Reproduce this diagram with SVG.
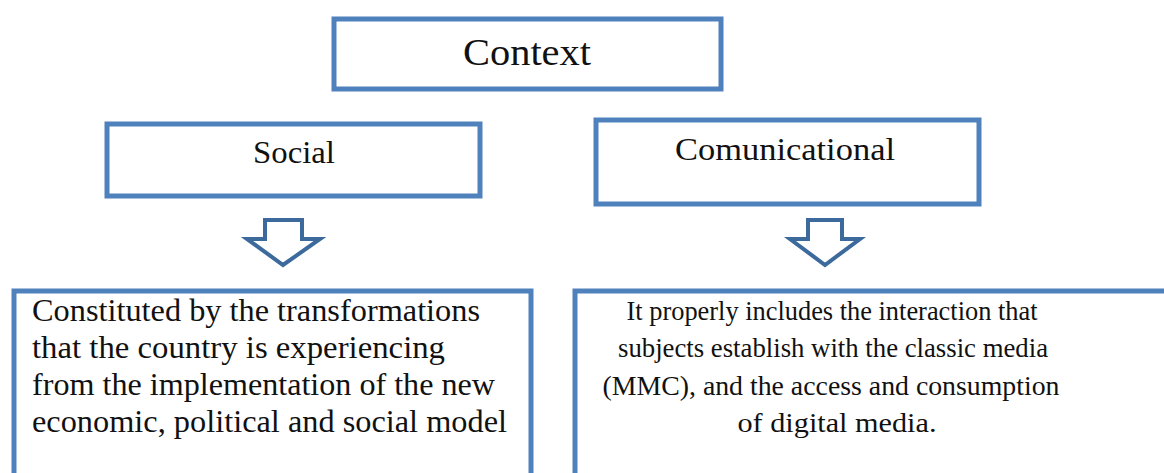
<svg xmlns="http://www.w3.org/2000/svg" width="1164" height="473" viewBox="0 0 1164 473">
<style>
.box{fill:#ffffff;stroke:#4f81bd;stroke-width:5}
.arrow{fill:#ffffff;stroke:#3d6a9c;stroke-width:4;stroke-linejoin:miter}
.t{font-family:"Liberation Serif","Times New Roman",serif;fill:#111111}
.h1{font-size:37px}
.h2{font-size:31px}
.b{font-size:31px}
.r{font-size:28px}
</style>
<rect width="1164" height="473" fill="#ffffff"/>
<g id="context">
<rect class="box" x="334" y="19" width="387" height="70"/>
<text class="t h1" x="527" y="65" text-anchor="middle" textLength="128" lengthAdjust="spacingAndGlyphs">Context</text>
</g>
<g id="social">
<rect class="box" x="107" y="124" width="373" height="72"/>
<text class="t h2" x="294" y="163" text-anchor="middle" textLength="82" lengthAdjust="spacingAndGlyphs">Social</text>
</g>
<g id="comunicational">
<rect class="box" x="596" y="120" width="383" height="84"/>
<text class="t h2" x="785" y="160" text-anchor="middle" textLength="220" lengthAdjust="spacingAndGlyphs">Comunicational</text>
</g>
<g id="connectors">
<path class="arrow" d="M265,220 H302 V239 H320 L283,265 L247,239 H265 Z"/>
<path class="arrow" d="M808,220 H842 V239 H860 L825,265 L790,239 H808 Z"/>
</g>
<g id="social-desc">
<rect class="box" x="14" y="291" width="517" height="200"/>
<text class="t b" x="32" y="321" textLength="448" lengthAdjust="spacingAndGlyphs">Constituted by the transformations</text>
<text class="t b" x="32" y="358" textLength="413" lengthAdjust="spacingAndGlyphs">that the country is experiencing</text>
<text class="t b" x="32" y="395" textLength="463" lengthAdjust="spacingAndGlyphs">from the implementation of the new</text>
<text class="t b" x="32" y="432" textLength="475" lengthAdjust="spacingAndGlyphs">economic, political and social model</text>
</g>
<g id="comunicational-desc">
<rect class="box" x="575" y="291" width="600" height="200"/>
<text class="t r" x="832" y="320" text-anchor="middle" textLength="411" lengthAdjust="spacingAndGlyphs">It properly includes the interaction that</text>
<text class="t r" x="833" y="357" text-anchor="middle" textLength="430" lengthAdjust="spacingAndGlyphs">subjects establish with the classic media</text>
<text class="t r" x="831" y="395" text-anchor="middle" textLength="457" lengthAdjust="spacingAndGlyphs">(MMC), and the access and consumption</text>
<text class="t r" x="837" y="432" text-anchor="middle" textLength="199" lengthAdjust="spacingAndGlyphs">of digital media.</text>
</g>
</svg>
